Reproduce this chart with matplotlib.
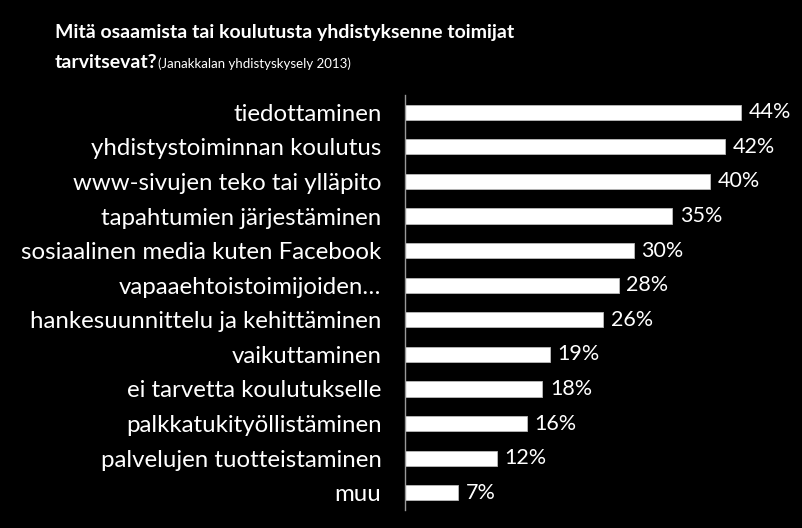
import numpy as np
import matplotlib
matplotlib.use('Agg')
import matplotlib.pyplot as plt

# survey answers, top to bottom
labels = ['tiedottaminen', 'yhdistystoiminnan koulutus', 'www-sivujen teko tai ylläpito',
          'tapahtumien järjestäminen', 'sosiaalinen media kuten Facebook',
          'vapaaehtoistoimijoiden…', 'hankesuunnittelu ja kehittäminen',
          'vaikuttaminen', 'ei tarvetta koulutukselle', 'palkkatukityöllistäminen',
          'palvelujen tuotteistaminen', 'muu']
values = [44, 42, 40, 35, 30, 28, 26, 19, 18, 16, 12, 7]

plt.rcParams['font.family'] = ['Lato', 'DejaVu Sans']

fig = plt.figure(figsize=(8.03, 5.28), dpi=100, facecolor='black')
ax = fig.add_axes([405/803, 18/528, 381.5/803, 415/528], facecolor='black')

y = np.arange(len(labels))
ax.barh(y, values, height=0.44, color='white', edgecolor='#bbbbbb', linewidth=0.6)
ax.set_ylim(len(labels) - 0.5, -0.5)
ax.set_xlim(0, 50)

ax.set_yticks(y)
ax.set_yticklabels(labels, color='white', fontsize=17.3)
ax.tick_params(axis='y', length=0, pad=17)
ax.set_xticks([])
for s in ['top', 'right', 'bottom']:
    ax.spines[s].set_visible(False)
ax.spines['left'].set_color('#999999')
ax.spines['left'].set_linewidth(1)

for yi, v in zip(y, values):
    ax.text(v + 1.0, yi, f'{v}%', color='white', fontsize=15.5, va='center', ha='left')

fig.text(55/803, 1 - 38/528, 'Mitä osaamista tai koulutusta yhdistyksenne toimijat',
         color='white', fontsize=14, fontweight='bold', va='baseline')
t = fig.text(55/803, 1 - 68/528, 'tarvitsevat?', color='white', fontsize=14,
             fontweight='bold', va='baseline')
fig.canvas.draw()
bb = t.get_window_extent()
fig.text(bb.x1 / 803, 1 - 68/528, '(Janakkalan yhdistyskysely 2013)', color='white',
         fontsize=9.5, va='baseline')

fig.savefig('out.png', dpi=100, facecolor='black')
